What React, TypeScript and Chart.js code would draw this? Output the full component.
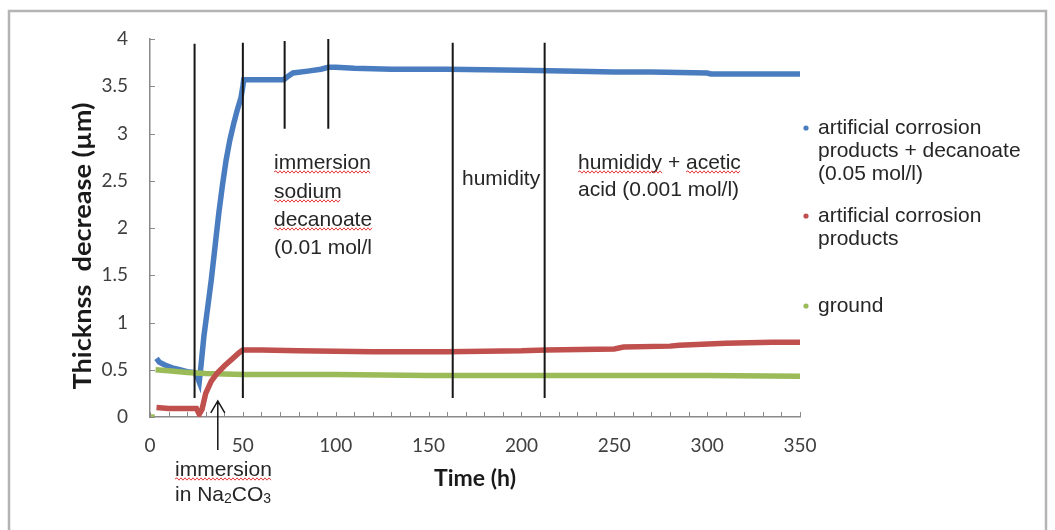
import { useEffect, useRef } from "react";
import { Chart, registerables } from "chart.js";
Chart.register(...registerables);

// ---- data (time in h, thickness decrease in µm) ----
const blueTime = [3.5, 5, 8, 12, 16, 20, 24, 25.5, 26.5, 27.5, 29, 31, 33, 35, 37, 39, 41, 43, 45, 47, 49, 50, 50.5, 60, 72, 74, 77, 85, 92, 96, 100, 110, 130, 160, 200, 230, 250, 270, 300, 302, 350];
const blueThickness = [0.62, 0.58, 0.55, 0.52, 0.5, 0.48, 0.47, 0.42, 0.37, 0.55, 0.85, 1.15, 1.45, 1.8, 2.15, 2.45, 2.72, 2.93, 3.1, 3.25, 3.38, 3.5, 3.57, 3.57, 3.57, 3.6, 3.64, 3.66, 3.68, 3.7, 3.7, 3.69, 3.68, 3.68, 3.67, 3.66, 3.65, 3.65, 3.64, 3.63, 3.63];

const redTime = [3.5, 10, 20, 25, 26.5, 28, 30, 33, 36, 40, 44, 48, 50, 60, 80, 120, 160, 200, 213, 250, 255, 280, 285, 310, 335, 350];
const redThickness = [0.1, 0.09, 0.09, 0.09, 0.03, 0.08, 0.25, 0.38, 0.46, 0.54, 0.61, 0.68, 0.71, 0.71, 0.7, 0.69, 0.69, 0.7, 0.71, 0.72, 0.74, 0.75, 0.76, 0.78, 0.79, 0.79];

const greenTime = [0, 1, 2.5, 2.8, 3, 10, 20, 30, 50, 100, 150, 200, 250, 300, 350];
const greenThickness = [0, 0, 0, null, 0.5, 0.49, 0.47, 0.46, 0.45, 0.45, 0.44, 0.44, 0.44, 0.44, 0.43];

const seriesColors = ["#4a7dc0", "#c0504d", "#9bbb59"];
const legendLines = [
  ["artificial corrosion", "products + decanoate", "(0.05 mol/l)"],
  ["artificial corrosion", "products"],
  ["ground"],
];

const xTickValues = [0, 50, 100, 150, 200, 250, 300, 350];
const yTickValues = [0, 0.5, 1, 1.5, 2, 2.5, 3, 3.5, 4];

// vertical event lines (h) and their extent (µm)
const eventHours = [24, 50, 72.5, 96, 163, 212.5];
const eventFrom = [0.2, 0.2, 3.05, 3.05, 0.2, 0.2];
const eventTo = [3.95, 3.96, 3.98, 4.0, 3.96, 3.96];

const arrowHour = 36.5;
const arrowTip = 0.17;
const arrowTail = -0.35;

const yTitle = "Thicknss  decrease (µm)";
const xTitle = "Time (h)";

const TEXT_FONT = "Liberation Sans, Arial, sans-serif";

function wavy(ctx: CanvasRenderingContext2D, x1: number, x2: number, y: number) {
  ctx.save();
  ctx.strokeStyle = "#e23a3a";
  ctx.lineWidth = 1;
  ctx.beginPath();
  let up = true;
  ctx.moveTo(x1, y);
  for (let x = x1 + 2; x <= x2; x += 2) {
    ctx.lineTo(x, y + (up ? -1.2 : 1.2));
    up = !up;
  }
  ctx.stroke();
  ctx.restore();
}

function textLine(ctx: CanvasRenderingContext2D, s: string, x: number, y: number, underline: boolean) {
  ctx.fillText(s, x, y);
  if (underline) {
    const w = ctx.measureText(s).width;
    wavy(ctx, x, x + w, y + 9);
  }
}

const overlayPlugin = {
  id: "overlay",
  beforeDraw(chart: any) {
    const ctx = chart.ctx as CanvasRenderingContext2D;
    ctx.save();
    ctx.strokeStyle = "#b4b4b4";
    ctx.lineWidth = 2.5;
    ctx.strokeRect(9, 11, 1037, 560);
    ctx.restore();
  },
  afterDatasetsDraw(chart: any) {
    const ctx = chart.ctx as CanvasRenderingContext2D;
    const x = chart.scales.x;
    const y = chart.scales.y;
    ctx.save();
    // inward tick marks
    ctx.strokeStyle = "#8a8a8a";
    ctx.lineWidth = 1;
    const axisY = y.getPixelForValue(0);
    const axisX = x.getPixelForValue(0);
    ctx.beginPath();
    for (let v = 0; v <= 350; v += 10) {
      const px = Math.round(x.getPixelForValue(v)) + 0.5;
      ctx.moveTo(px, axisY);
      ctx.lineTo(px, axisY - 5);
    }
    for (const v of yTickValues) {
      const py = Math.round(y.getPixelForValue(v)) + 0.5;
      ctx.moveTo(axisX, py);
      ctx.lineTo(axisX + 5, py);
    }
    ctx.stroke();

    // event lines
    ctx.strokeStyle = "#161616";
    ctx.lineWidth = 2;
    ctx.beginPath();
    eventHours.forEach((h, i) => {
      const px = x.getPixelForValue(h);
      ctx.moveTo(px, y.getPixelForValue(eventFrom[i]));
      ctx.lineTo(px, y.getPixelForValue(eventTo[i]));
    });
    ctx.stroke();

    // arrow
    const ax = x.getPixelForValue(arrowHour);
    const at = y.getPixelForValue(arrowTip);
    const ab = y.getPixelForValue(arrowTail);
    ctx.lineWidth = 1.5;
    ctx.beginPath();
    ctx.moveTo(ax, ab);
    ctx.lineTo(ax, at);
    ctx.moveTo(ax - 7, at + 12);
    ctx.lineTo(ax, at);
    ctx.lineTo(ax + 7, at + 12);
    ctx.stroke();

    // annotations
    ctx.fillStyle = "#262626";
    ctx.font = `21px ${TEXT_FONT}`;
    ctx.textBaseline = "middle";
    ctx.textAlign = "left";
    textLine(ctx, "immersion", 274, 163, true);
    textLine(ctx, "sodium", 274, 192, true);
    textLine(ctx, "decanoate", 274, 220, true);
    textLine(ctx, "(0.01 mol/l", 274, 248, false);
    textLine(ctx, "humidity", 462, 179, false);
    const hw = ctx.measureText("humididy").width;
    textLine(ctx, "humididy", 578, 163, true);
    const pw = ctx.measureText("humididy + ").width;
    ctx.fillText("+", 578 + hw + ctx.measureText(" ").width, 163);
    textLine(ctx, "acetic", 578 + pw, 163, true);
    textLine(ctx, "acid (0.001 mol/l)", 578, 190, false);

    // bottom annotation with subscripts
    textLine(ctx, "immersion", 175, 470, true);
    let cx = 175;
    const base = 495;
    const parts: [string, boolean][] = [["in Na", false], ["2", true], ["CO", false], ["3", true]];
    for (const [s, sub] of parts) {
      ctx.font = sub ? `14px ${TEXT_FONT}` : `21px ${TEXT_FONT}`;
      ctx.fillText(s, cx, sub ? base + 4 : base);
      cx += ctx.measureText(s).width;
    }

    // legend
    ctx.font = `21px ${TEXT_FONT}`;
    const legendStart = [128, 216, 306];
    legendLines.forEach((lines, i) => {
      ctx.fillStyle = seriesColors[i];
      ctx.beginPath();
      ctx.arc(806, legendStart[i], 2.6, 0, Math.PI * 2);
      ctx.fill();
      ctx.fillStyle = "#262626";
      lines.forEach((s, j) => ctx.fillText(s, 818, legendStart[i] + j * 23));
    });

    // y title
    ctx.save();
    ctx.translate(83, 246);
    ctx.rotate(-Math.PI / 2);
    ctx.font = `bold 24px Lato, ${TEXT_FONT}`;
    const w = ctx.measureText(yTitle).width;
    ctx.scale(287 / w, 1);
    ctx.textAlign = "center";
    ctx.fillStyle = "#1a1a1a";
    ctx.fillText(yTitle, 0, 0);
    ctx.restore();

    ctx.restore();
  },
};

export default function App() {
  const canvasRef = useRef<HTMLCanvasElement | null>(null);
  useEffect(() => {
    if (!canvasRef.current) return;
    const mk = (t: number[], v: (number | null)[]) => t.map((h, i) => ({ x: h, y: v[i] }));
    const chart = new Chart(canvasRef.current, {
      type: "scatter",
      data: {
        datasets: [
          { label: legendLines[0].join(" "), data: mk(blueTime, blueThickness), borderColor: seriesColors[0], backgroundColor: seriesColors[0], order: 2 },
          { label: legendLines[1].join(" "), data: mk(redTime, redThickness), borderColor: seriesColors[1], backgroundColor: seriesColors[1], order: 0 },
          { label: legendLines[2].join(" "), data: mk(greenTime, greenThickness), borderColor: seriesColors[2], backgroundColor: seriesColors[2], order: 1 },
        ].map((d) => ({ ...d, showLine: true, borderWidth: 5.5, pointRadius: 0, tension: 0, spanGaps: false })) as any,
      },
      options: {
        animation: false,
        responsive: true,
        maintainAspectRatio: false,
        devicePixelRatio: 1,
        layout: { padding: { left: 90, top: 39, right: 255, bottom: 0 } },
        plugins: { legend: { display: false }, tooltip: { enabled: false } },
        scales: {
          x: {
            type: "linear",
            min: 0,
            max: 350,
            afterBuildTicks: (s: any) => { s.ticks = xTickValues.map((v) => ({ value: v })); },
            afterFit: (s: any) => { s.height = 113; },
            grid: { display: false, drawTicks: false },
            border: { display: true, color: "#8a8a8a", width: 1.5 },
            ticks: { font: { family: "Lato", size: 19 }, color: "#404040", padding: 17, maxRotation: 0, callback: (v: any) => String(v) },
            title: { display: true, text: xTitle, font: { family: "Lato", size: 23, weight: "bold" }, color: "#1a1a1a", padding: { top: 0, bottom: 38 } },
          },
          y: {
            type: "linear",
            min: 0,
            max: 4,
            afterBuildTicks: (s: any) => { s.ticks = yTickValues.map((v) => ({ value: v })); },
            afterFit: (s: any) => { s.width = 60; },
            grid: { display: false, drawTicks: false },
            border: { display: true, color: "#8a8a8a", width: 1.5 },
            ticks: { font: { family: "Lato", size: 19 }, color: "#404040", padding: 22, callback: (v: any) => String(v) },
          },
        },
      },
      plugins: [overlayPlugin],
    });
    return () => chart.destroy();
  }, []);
  return (
    <div style={{ position: "fixed", left: 0, top: 0, width: 1055, height: 530, background: "#fff" }}>
      <canvas ref={canvasRef} />
    </div>
  );
}
